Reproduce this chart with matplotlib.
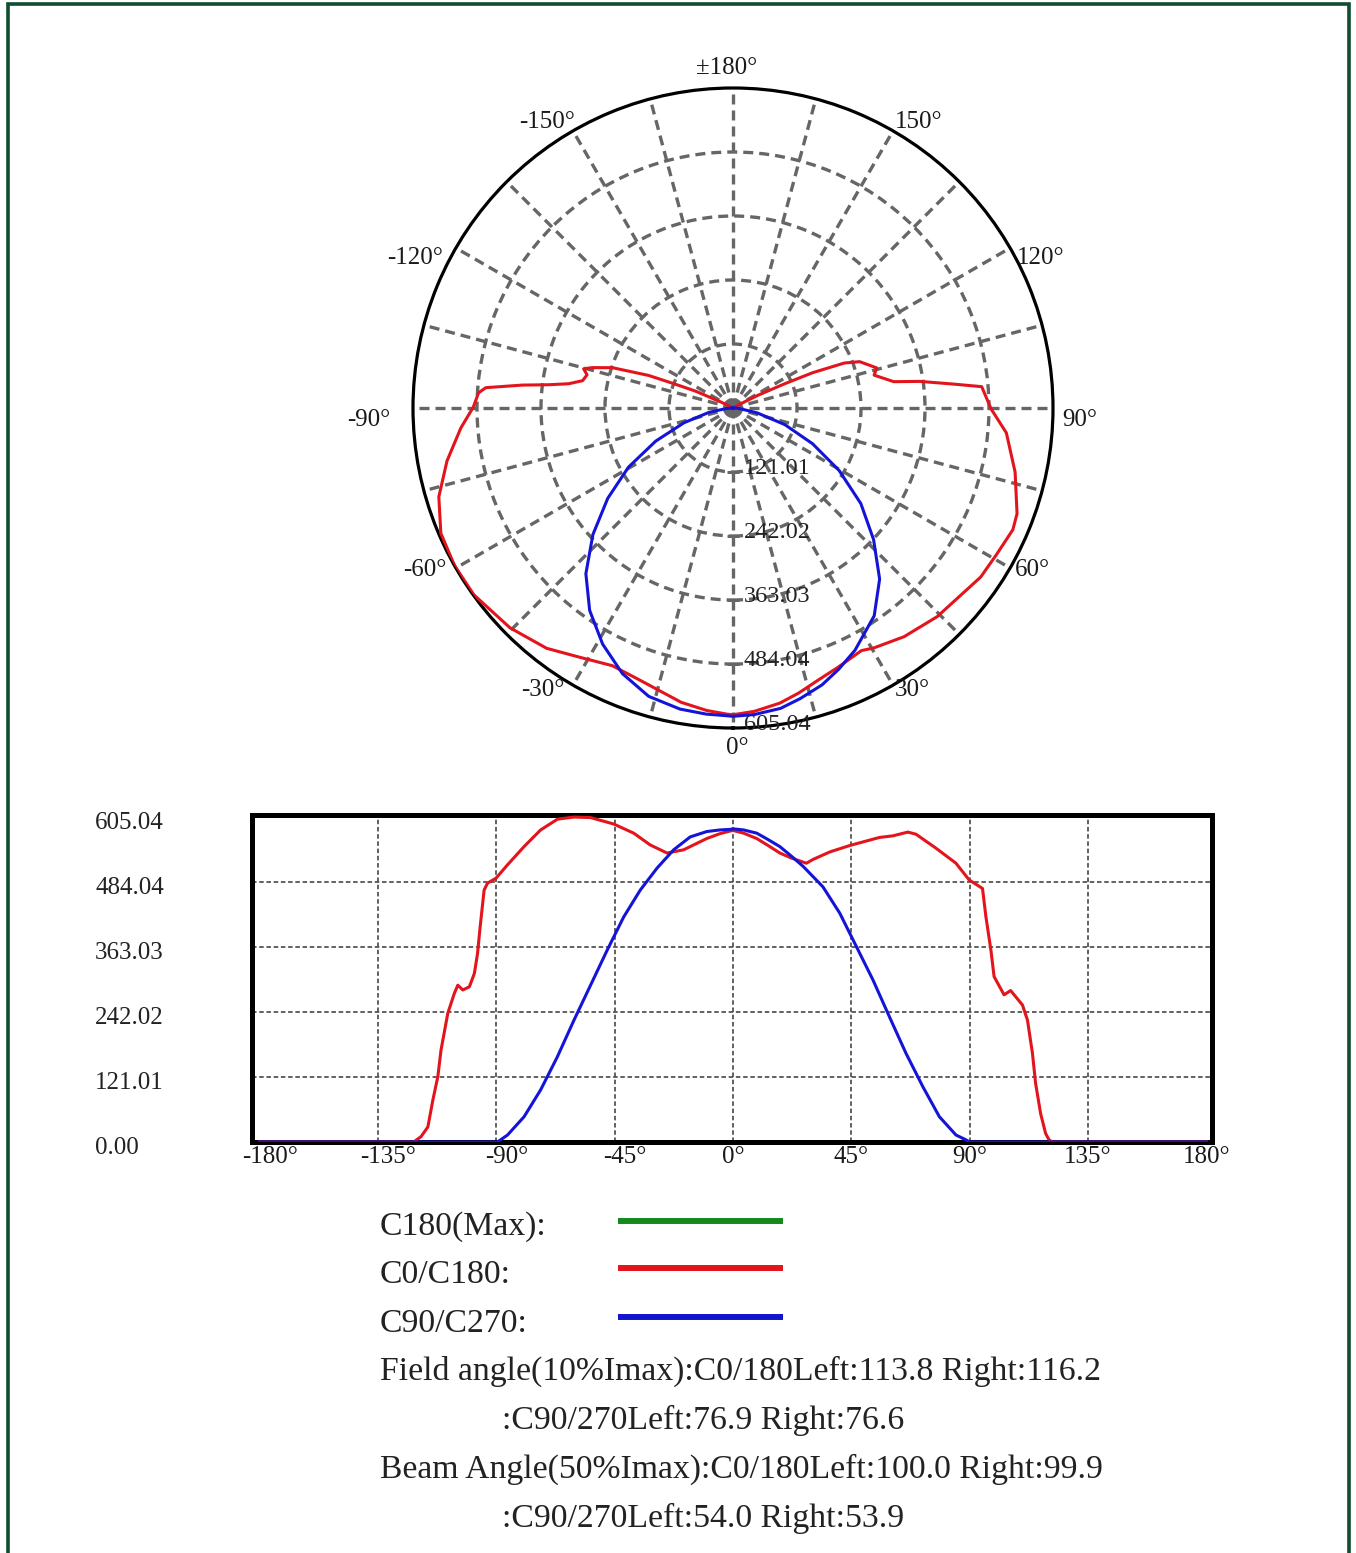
import matplotlib
matplotlib.use('Agg')
import matplotlib.pyplot as plt
import matplotlib.transforms as mtransforms
from matplotlib.lines import Line2D
from matplotlib.patches import Rectangle
import numpy as np

plt.rcParams['font.family'] = ['Liberation Serif', 'DejaVu Serif']

# C0/C180 curve (gamma angle in degrees, intensity)
red_deg = [-180, -121.5, -118.7, -116.1, -114.2, -112.3, -111.1, -108.5, -106, -104.7, -102.8,
           -100.3, -98.4, -97.2, -96.2, -94.7, -93.4, -90.2, -85.8, -79.5, -73.2, -66.8, -60.5,
           -54.2, -45.4, -37.8, -31.5, -25.1, -18.8, -10, -5, -1.1, 0, 4, 9, 13, 17.8, 22, 27.9,
           30.4, 36.8, 44.4, 55.7, 60.8, 66.5, 69.6, 77.2, 84.8, 89.8, 94.9, 96.2, 98.1, 99.3,
           103.1, 105.6, 110.1, 112, 113.9, 115.1, 117, 118.9, 120.2, 121.5, 180]
red_val = [0, 0, 10, 28, 78, 122, 171, 240, 277, 292, 283,
           289, 314, 351, 401, 469, 482, 491, 516, 550, 581, 601, 605,
           604, 592, 575, 553, 538, 544, 565, 574, 579, 580, 575, 565, 553, 538, 529, 519,
           526, 540, 552, 567, 570, 577, 573, 547, 519, 488, 472, 419, 357, 308,
           274, 282, 255, 227, 165, 109, 53, 16, 4, 0, 0]

# C90/C270 curve
blue_deg = [-180, -89.6, -85.8, -79.5, -73.2, -66.8, -60.5, -54.2, -47.9, -41.6, -35.3, -28.9,
            -22.6, -16.3, -10, -5, -1.1, 0, 4, 9, 13, 17.8, 22, 26.7, 34.2, 40.6, 46.9, 53.2,
            59.5, 65.8, 72.2, 78.5, 84.8, 88.6, 90, 180]
blue_val = [0, 0, 13, 47, 97, 159, 227, 292, 357, 419, 469, 510,
            544, 568, 578, 581, 582, 583, 581, 575, 564, 550, 533, 513, 475, 426, 364, 302,
            233, 165, 103, 47, 13, 4, 0, 0]

imax = 605.04
r_ticks = [121.01, 242.02, 363.03, 484.04, 605.04]
y_ticks = [0.00, 121.01, 242.02, 363.03, 484.04, 605.04]
x_ticks = [-180, -135, -90, -45, 0, 45, 90, 135, 180]

polar_labels = {0: '0°', 30: '30°', 60: '60°', 90: '90°', 120: '120°', 150: '150°',
                180: '±180°', -150: '-150°', -120: '-120°', -90: '-90°', -60: '-60°', -30: '-30°'}

legend_rows = [('C180(Max):', '#148a1e'), ('C0/C180:', '#e3141c'), ('C90/C270:', '#1414cc')]
info_lines = ['Field angle(10%Imax):C0/180Left:113.8 Right:116.2',
              ':C90/270Left:76.9 Right:76.6',
              'Beam Angle(50%Imax):C0/180Left:100.0 Right:99.9',
              ':C90/270Left:54.0 Right:53.9']

RED = '#e3141c'
BLUE = '#1414d8'
GRID = '#666666'

W, H = 1356, 1553
fig = plt.figure(figsize=(W / 100, H / 100), dpi=100)

# ---- polar plot ----
cx, cy, R = 733, 408, 320
ax = fig.add_axes([(cx - R) / W, (H - cy - R) / H, 2 * R / W, 2 * R / H], projection='polar')
ax.set_theta_zero_location('S')
ax.set_theta_direction(1)
ax.plot(np.deg2rad(red_deg), red_val, color=RED, lw=2.2, zorder=3)
ax.plot(np.deg2rad(blue_deg), blue_val, color=BLUE, lw=2.2, zorder=4)
ax.set_ylim(0, imax)
ax.set_thetagrids(np.arange(0, 360, 15), labels=[''] * 24)
ax.set_rgrids(r_ticks[:-1], labels=[''] * 4)
ax.grid(True, color=GRID, ls=(0, (3, 1.8)), lw=2.4)
ax.spines['polar'].set_linewidth(2.3)
ax.spines['polar'].set_color('black')
ax.tick_params(pad=0)

offsets = {0: (4, -20, 'center'), 180: (-6, 20, 'center'),
           150: (2, 9, 'left'), -150: (2, 9, 'right'),
           120: (7, -10, 'left'), -120: (-13, -10, 'right'),
           90: (9, -12, 'left'), -90: (-23, -12, 'right'),
           60: (5, -2, 'left'), -60: (-9, -2, 'right'),
           30: (2, -5, 'left'), -30: (-8, -5, 'right')}
for ang, txt in polar_labels.items():
    dx, dy, ha = offsets[ang]
    ax.annotate(txt, xy=(np.deg2rad(ang), imax), xytext=(dx, dy), textcoords='offset pixels',
                ha=ha, va='center', fontsize=18, color='#1a1a1a', annotation_clip=False)

ax.plot([0] * len(r_ticks), r_ticks, ls='none', marker='_', ms=9, mew=2, color=GRID, zorder=2)
for r in r_ticks:
    ax.annotate(f'{r:.2f}', xy=(0, r), xytext=(11, 4), textcoords='offset pixels',
                ha='left', va='center', fontsize=17.5, color='#222222', annotation_clip=False,
                zorder=5)

# ---- linear plot ----
ax2 = fig.add_axes([252 / W, (H - 1142) / H, 960 / W, 327 / H])
ax2.plot(red_deg, red_val, color=RED, lw=2.2, zorder=3)
ax2.plot(blue_deg, blue_val, color=BLUE, lw=2.2, zorder=4)
ax2.set_xlim(-183, 182.2)
ax2.set_ylim(0, 608.8)
for xv in x_ticks[1:-1]:
    ax2.axvline(xv, color='#555555', ls=(0, (2.5, 1.5)), lw=1.3, zorder=1)
for yv in y_ticks[1:-1]:
    ax2.axhline(yv, color='#555555', ls=(0, (2.5, 1.5)), lw=1.3, zorder=1)
for s in ax2.spines.values():
    s.set_linewidth(3.6)
    s.set_color('black')
    s.set_zorder(2)

ax2.set_xticks(x_ticks)
ax2.set_xticklabels([f'{v}°' for v in x_ticks], fontsize=18, color='#1a1a1a')
ax2.set_yticks(y_ticks)
ax2.set_yticklabels([f'{v:.2f}' for v in y_ticks], fontsize=18, color='#222222')
ax2.tick_params(axis='both', length=0)
ax2.tick_params(axis='x', pad=3)
ax2.tick_params(axis='y', pad=113)
for lbl in ax2.get_yticklabels():
    lbl.set_ha('left')
    lbl.set_transform(lbl.get_transform() + mtransforms.ScaledTranslation(0, -0.03, fig.dpi_scale_trans))
for lbl, v in zip(ax2.get_xticklabels(), x_ticks):
    if v < 0:
        lbl.set_transform(lbl.get_transform() + mtransforms.ScaledTranslation(0.1, 0, fig.dpi_scale_trans))

# ---- legend & info text ----
base_y = [1235, 1283, 1332]
line_y = [1221, 1268, 1317]
for (txt, col), by, ly in zip(legend_rows, base_y, line_y):
    fig.text(380 / W, 1 - by / H, txt, fontsize=24.3, va='baseline', ha='left', color='#222222')
    fig.add_artist(Line2D([618 / W, 783 / W], [1 - ly / H, 1 - ly / H], color=col, lw=4.3,
                          solid_capstyle='butt'))

info_x = [380, 502, 380, 502]
info_y = [1380, 1429, 1478, 1527]
for txt, x, y in zip(info_lines, info_x, info_y):
    fig.text(x / W, 1 - y / H, txt, fontsize=24.3, va='baseline', ha='left', color='#222222')

# frame around the page
fig.add_artist(Rectangle((7.5 / W, -0.01), (1349 - 7.5) / W, 1.01 - 3.5 / H,
                         transform=fig.transFigure, fill=False, ec='#0f4d2e', lw=2.6))

fig.savefig('out.png', dpi=100)
